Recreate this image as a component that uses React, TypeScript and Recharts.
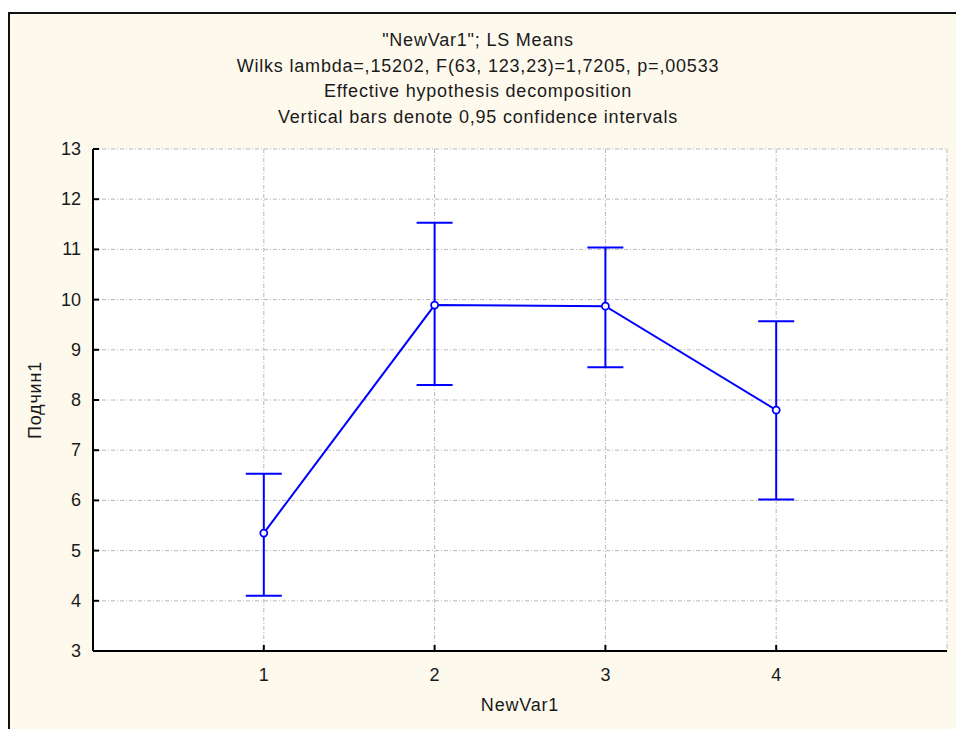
import React from "react";
import { ComposedChart, Line, XAxis, YAxis, CartesianGrid, ErrorBar } from "recharts";

const groups = [1, 2, 3, 4];
const means = [5.35, 9.89, 9.87, 7.8];
const lowerCI = [4.1, 8.3, 8.65, 6.02];
const upperCI = [6.53, 11.53, 11.04, 9.57];
const xTicks = [1, 2, 3, 4];
const yTicks = [3, 4, 5, 6, 7, 8, 9, 10, 11, 12, 13];
const titleLines = [
  "\"NewVar1\"; LS Means",
  "Wilks lambda=,15202, F(63, 123,23)=1,7205, p=,00533",
  "Effective hypothesis decomposition",
  "Vertical bars denote 0,95 confidence intervals",
];

const data = groups.map((g, i) => ({
  group: g,
  mean: means[i],
  ci: [means[i] - lowerCI[i], upperCI[i] - means[i]],
}));

const FONT = "'Liberation Sans', Arial, sans-serif";
const TEXT = "#1a1a1a";
const BLUE = "#0000ff";

function LeftTick(props: any) {
  const { x, y, payload } = props;
  return (
    <g>
      <text x={x - 12} y={y} dy={6} textAnchor="end" fontSize={18} fontFamily={FONT} fill={TEXT}>
        {payload.value}
      </text>
      <line x1={x} x2={x + 6} y1={y} y2={y} stroke="#000" strokeWidth={2} />
    </g>
  );
}

function RightTick(props: any) {
  const { x, y } = props;
  return <line x1={x - 6} x2={x} y1={y} y2={y} stroke="#000" strokeWidth={2} />;
}

function BottomTick(props: any) {
  const { x, y, payload } = props;
  return (
    <g>
      <line x1={x} x2={x} y1={y - 6} y2={y} stroke="#000" strokeWidth={2} />
      <text x={x} y={y + 30} textAnchor="middle" fontSize={18} fontFamily={FONT} fill={TEXT}>
        {payload.value}
      </text>
    </g>
  );
}

export default function App() {
  return (
    <div style={{ position: "absolute", left: 0, top: 0, width: 956, height: 729, background: "#fff", overflow: "hidden", fontFamily: FONT }}>
      <div
        style={{
          position: "absolute",
          left: 8,
          top: 12,
          width: 960,
          height: 730,
          borderLeft: "2px solid #111",
          borderTop: "2px solid #111",
          background: "#fef9ed",
        }}
      />
      {titleLines.map((t, i) => (
        <div
          key={i}
          style={{
            position: "absolute",
            left: 0,
            width: 956,
            top: 29 + i * 25.5,
            textAlign: "center",
            fontSize: 18,
            letterSpacing: 0.8,
            lineHeight: "22px",
            color: TEXT,
          }}
        >
          {t}
        </div>
      ))}
      <div
        style={{
          position: "absolute",
          left: 35 - 60,
          top: 400 - 11,
          width: 120,
          height: 22,
          lineHeight: "22px",
          textAlign: "center",
          fontSize: 18,
          letterSpacing: 0.8,
          color: TEXT,
          transform: "rotate(-90deg)",
        }}
      >
        Подчин1
      </div>
      <div
        style={{
          position: "absolute",
          left: 460,
          width: 120,
          top: 694,
          textAlign: "center",
          fontSize: 18,
          letterSpacing: 0.8,
          lineHeight: "22px",
          color: TEXT,
        }}
      >
        NewVar1
      </div>
      <div style={{ position: "absolute", left: 0, top: 0 }}>
        <ComposedChart width={956} height={729} data={data} margin={{ top: 149, right: 9, bottom: 48, left: 33 }}>
          <CartesianGrid
            fill="#ffffff"
            stroke="#b8b8b8"
            strokeDasharray="4 2 1 2"
            strokeWidth={1}
          />
          <XAxis
            dataKey="group"
            type="number"
            domain={[0, 5]}
            ticks={xTicks}
            height={30}
            tickSize={0}
            tickMargin={0}
            tick={<BottomTick />}
            axisLine={{ stroke: "#000", strokeWidth: 2 }}
            interval={0}
          />
          <XAxis
            xAxisId="top"
            orientation="top"
            dataKey="group"
            type="number"
            domain={[0, 5]}
            height={0}
            tick={false}
            tickLine={false}
            axisLine={{ stroke: "#000", strokeWidth: 2 }}
          />
          <YAxis
            type="number"
            domain={[3, 13]}
            ticks={yTicks}
            width={60}
            tickSize={0}
            tickMargin={0}
            tick={<LeftTick />}
            axisLine={{ stroke: "#000", strokeWidth: 2 }}
            interval={0}
          />
          <YAxis
            yAxisId="right"
            orientation="right"
            type="number"
            domain={[3, 13]}
            ticks={yTicks}
            width={0}
            tickSize={0}
            tickMargin={0}
            tick={<RightTick />}
            axisLine={{ stroke: "#000", strokeWidth: 2 }}
            interval={0}
          />
          <Line
            dataKey="mean"
            type="linear"
            stroke={BLUE}
            strokeWidth={2}
            isAnimationActive={false}
            dot={{ r: 3.5, stroke: BLUE, strokeWidth: 1.8, fill: "#fff" }}
            activeDot={false}
          >
            <ErrorBar dataKey="ci" direction="y" width={18} stroke={BLUE} strokeWidth={2} isAnimationActive={false} />
          </Line>
        </ComposedChart>
      </div>
    </div>
  );
}
